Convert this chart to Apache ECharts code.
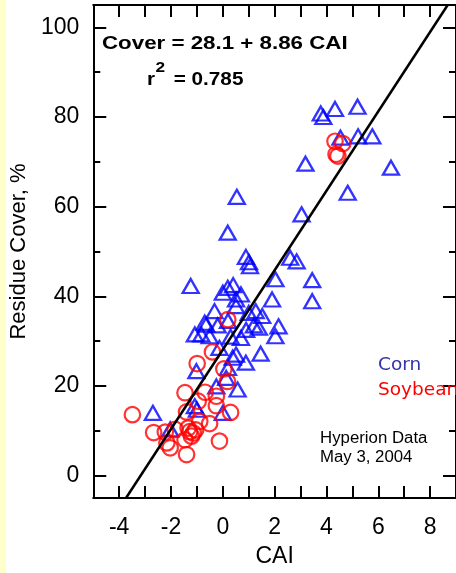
<!DOCTYPE html>
<html><head><meta charset="utf-8">
<script src="https://cdn.jsdelivr.net/npm/echarts@6/dist/echarts.min.js"></script>
<style>html,body{margin:0;padding:0;background:#fff}#c{width:456px;height:573px}</style>
</head><body><div id="c"></div>
<script>
// ---- data ----
const cornData = [
  [3.78,80.8],[3.88,80.0],[4.33,81.8],[5.20,82.3],[4.54,75.4],[5.22,75.7],[5.77,75.7],
  [3.19,69.6],[6.49,68.7],[4.82,63.1],[3.04,58.3],[0.54,62.2],[0.19,54.2],
  [0.89,48.8],[1.01,47.6],[1.05,46.7],[2.60,48.6],[2.85,47.8],[3.45,43.6],[3.45,38.9],
  [2.03,43.8],[-1.24,42.3],[0.19,41.9],[0.40,42.5],[0.0,40.8],[0.70,40.4],[0.51,39.3],
  [1.90,39.3],[1.27,36.7],[1.52,35.6],[-0.32,36.7],[-0.70,34.1],[1.39,33.0],[2.15,33.3],
  [-1.08,31.5],[-0.83,31.5],[-0.51,31.1],[0.70,30.7],[2.03,31.1],[-0.13,28.5],[0.51,27.0],
  [1.46,27.2],[0.89,25.2],[0.38,26.3],[0.13,21.8],[-1.02,23.3],[-0.25,19.9],[0.57,19.2],
  [-1.08,15.5],[0.0,14.0],[-2.70,14.0],[-2.03,10.3],[1.0,36.3],[0.51,37.8],[-0.64,33.7],
  [0.2,34.5],[1.2,33.5],[0.9,32.5],[-0.2,33.5],[0.3,31.0],[-1.0,14.7],[0.2,24.0]
];
const soyData = [
  [4.33,74.6],[4.63,74.1],[4.37,71.7],[4.44,71.3],
  [0.19,34.8],[-0.40,27.6],[-0.99,25.0],[0.04,23.8],[0.18,21.0],[-1.46,18.5],[-0.68,18.6],
  [-0.25,17.7],[-0.95,16.6],[-0.25,15.6],[-1.40,14.2],[0.30,14.1],[-3.49,13.6],[-0.51,11.6],
  [-0.89,12.1],[-2.67,9.6],[-2.22,9.7],[-1.84,10.3],[-1.34,10.6],[-1.14,9.5],[-1.21,8.8],
  [-1.46,8.0],[-2.16,7.3],[-2.03,6.2],[-0.13,7.7],[-1.40,4.7],[-1.05,10.2],[-1.28,9.8]
];
const xTickValues = [-4,-3,-2,-1,0,1,2,3,4,5,6,7,8];
const xLabelValues = [-4,-2,0,2,4,6,8];
const yMajorTicks = [0,20,40,60,80,100];
const yMinorTicks = [10,30,50,70,90];
const xRange = [-5, 9];
const yRange = [-5, 105];
const fitIntercept = 28.1;
const fitSlope = 8.86;
// ---- end data ----

const fitLine = [
  [(yRange[0]-fitIntercept)/fitSlope, yRange[0]],
  [(yRange[1]-fitIntercept)/fitSlope, yRange[1]]
];

const FONT = '"Liberation Sans", Arial, sans-serif';
const lineSt = {color:'#000', width:2};

function xAx(pos, labels){
  return {
    type:'value', position:pos, min:xRange[0], max:xRange[1],
    axisLine:{show:true, onZero:false, lineStyle:lineSt},
    axisTick:{show:true, inside:true, length:12, lineStyle:lineSt, customValues:xTickValues},
    axisLabel: labels ? {show:true, customValues:xLabelValues, color:'#000', fontSize:23, fontFamily:FONT, margin:18}
                      : {show:false},
    splitLine:{show:false},
    name: labels ? 'CAI' : '',
    nameLocation:'middle', nameGap:47,
    nameTextStyle:{color:'#000', fontSize:23, fontFamily:FONT}
  };
}
function yAx(pos, ticks, len, labels, name){
  return {
    type:'value', position:pos, min:yRange[0], max:yRange[1],
    axisLine:{show:true, onZero:false, lineStyle:lineSt},
    axisTick:{show:true, inside:true, length:len, lineStyle:lineSt, customValues:ticks},
    axisLabel: labels ? {show:true, customValues:ticks, color:'#000', fontSize:23, fontFamily:FONT, margin:14}
                      : {show:false},
    splitLine:{show:false},
    name: name || '',
    nameLocation:'middle', nameGap:54,
    nameTextStyle:{color:'#000', fontSize:22, fontFamily:FONT}
  };
}

const chart = echarts.init(document.getElementById('c'), null, {renderer:'canvas'});
chart.setOption({
  animation:false,
  backgroundColor:'#fff',
  grid:{left:92, top:5, right:-4, bottom:74, containLabel:false},
  xAxis:[xAx('bottom', true), xAx('top', false)],
  yAxis:[
    yAx('left', yMajorTicks, 13, true, 'Residue Cover, %'),
    yAx('left', yMinorTicks, 7, false),
    yAx('right', yMajorTicks, 13, false),
    yAx('right', yMinorTicks, 7, false)
  ],
  series:[
    {type:'scatter', name:'Corn', data:cornData, xAxisIndex:0, yAxisIndex:0,
     symbol:'triangle', symbolSize:[16,14], z:2, silent:true,
     itemStyle:{color:'rgba(0,0,0,0)', borderColor:'#0000FF', borderWidth:2.3}},
    {type:'scatter', name:'Soybean', data:soyData, xAxisIndex:0, yAxisIndex:0,
     symbol:'circle', symbolSize:15.5, z:3, silent:true,
     itemStyle:{color:'rgba(0,0,0,0)', borderColor:'#FF0000', borderWidth:2.2}},
    {type:'line', name:'Fit', data:fitLine, xAxisIndex:0, yAxisIndex:0,
     symbol:'none', z:4, silent:true, clip:true,
     lineStyle:{color:'#000', width:2.5}}
  ],
  graphic:[
    {type:'rect', shape:{x:0, y:0, width:6, height:573}, style:{fill:'#FFFFCC'}, z:-10},
    {type:'text', x:102, y:44.5, scaleX:1.24, z:10,
     style:{text:'Cover = 28.1 + 8.86 CAI', font:'bold 18px '+FONT, fill:'#000', verticalAlign:'middle', align:'left'}},
    {type:'text', x:147, y:80.5, scaleX:1.15, z:10,
     style:{text:'r', font:'bold 18px '+FONT, fill:'#000', verticalAlign:'middle', align:'left'}},
    {type:'text', x:155.5, y:67.5, scaleX:1.15, z:10,
     style:{text:'2', font:'bold 15px '+FONT, fill:'#000', verticalAlign:'middle', align:'left'}},
    {type:'text', x:168, y:80.5, scaleX:1.15, z:10,
     style:{text:' = 0.785', font:'bold 18px '+FONT, fill:'#000', verticalAlign:'middle', align:'left'}},
    {type:'text', x:378, y:365, z:10,
     style:{text:'Corn', font:'18.5px "Comic Sans MS", "DejaVu Sans", sans-serif', fill:'#3333AA', verticalAlign:'middle', align:'left'}},
    {type:'text', x:378, y:390, z:10,
     style:{text:'Soybean', font:'18.5px "Comic Sans MS", "DejaVu Sans", sans-serif', fill:'#FF0000', verticalAlign:'middle', align:'left'}},
    {type:'text', x:320, y:438.3, scaleX:1.05, z:10,
     style:{text:'Hyperion Data', font:'16px '+FONT, fill:'#000', verticalAlign:'middle', align:'left'}},
    {type:'text', x:320, y:457.2, scaleX:1.05, z:10,
     style:{text:'May 3, 2004', font:'16px '+FONT, fill:'#000', verticalAlign:'middle', align:'left'}}
  ]
});
</script></body></html>
